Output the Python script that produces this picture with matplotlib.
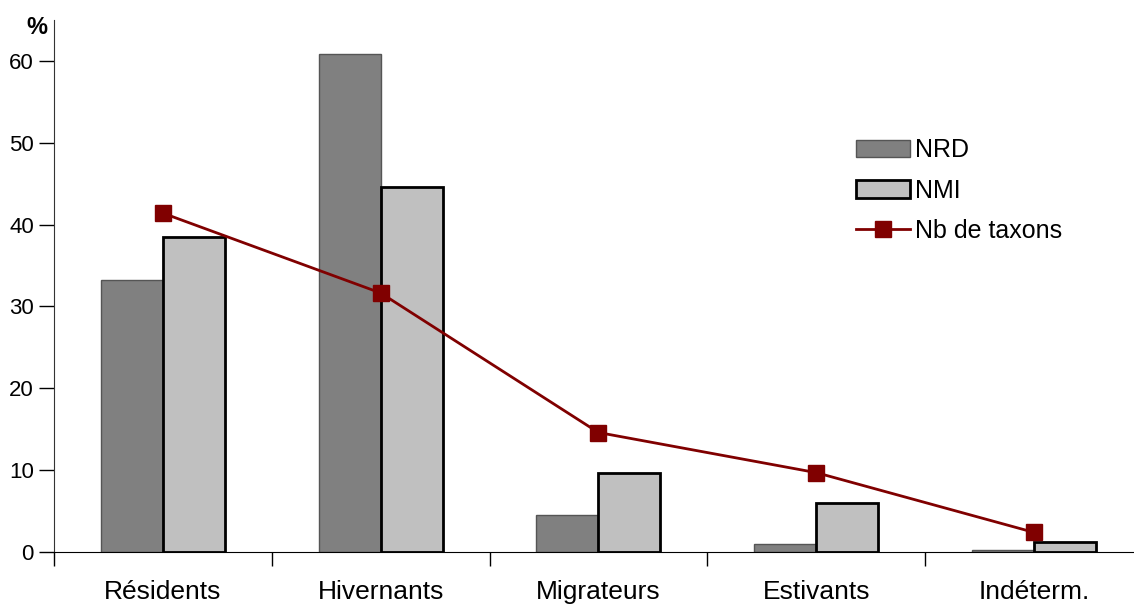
import matplotlib.pyplot as plt
import numpy as np

categories = ['Résidents', 'Hivernants', 'Migrateurs', 'Estivants', 'Indéterm.']
nrd = [33.2, 60.9, 4.5, 1.0, 0.2]
nmi = [38.5, 44.6, 9.65, 6.0, 1.2]
taxons = [41.4, 31.65, 14.6, 9.7, 2.4]

plt.rcParams['font.family'] = ['Liberation Sans', 'DejaVu Sans']

fig = plt.figure(figsize=(11.34, 6.05), dpi=100)
ax = fig.add_axes([54 / 1134, 1 - 552 / 605, 1 - 54 / 1134, (552 - 20) / 605])

x = np.arange(len(categories))
w = 0.285
b1 = ax.bar(x - w / 2, nrd, w, color='#808080', edgecolor='#555555', linewidth=1, label='NRD', zorder=2)
b2 = ax.bar(x + w / 2, nmi, w, color='#c0c0c0', edgecolor='black', linewidth=2, label='NMI', zorder=2)
l1, = ax.plot(x, taxons, color='#800000', lw=2, marker='s', markersize=12, label='Nb de taxons', zorder=3)

ax.set_xlim(-0.5, -0.5 + (1134 - 54) / 217.75)
ax.set_ylim(0, 65)
ax.set_yticks([0, 10, 20, 30, 40, 50, 60])
ax.tick_params(axis='y', direction='out', length=11, width=1, labelsize=16, pad=3.5)
ax.set_xticks(np.arange(len(categories)) - 0.5)
ax.set_xticklabels([])
ax.tick_params(axis='x', direction='out', length=10, width=1)
ax.set_xticks(x, minor=True)
ax.set_xticklabels(categories, minor=True, fontsize=19)
ax.tick_params(axis='x', which='minor', length=0, pad=20)

for s in ['top', 'right']:
    ax.spines[s].set_visible(False)
ax.spines['left'].set_color('#333333')

fig.text(37 / 1134, 1 - 28 / 605, '%', fontsize=17, fontweight='bold',
         ha='center', va='center')

leg = ax.legend([b1, b2, l1], ['NRD', 'NMI', 'Nb de taxons'],
                loc='upper left', bbox_to_anchor=(0.7215, 0.82), frameon=False,
                fontsize=18, handlelength=2.16, handleheight=0.7, handletextpad=0.2,
                labelspacing=0.65)

fig.savefig('out.png', dpi=100)
